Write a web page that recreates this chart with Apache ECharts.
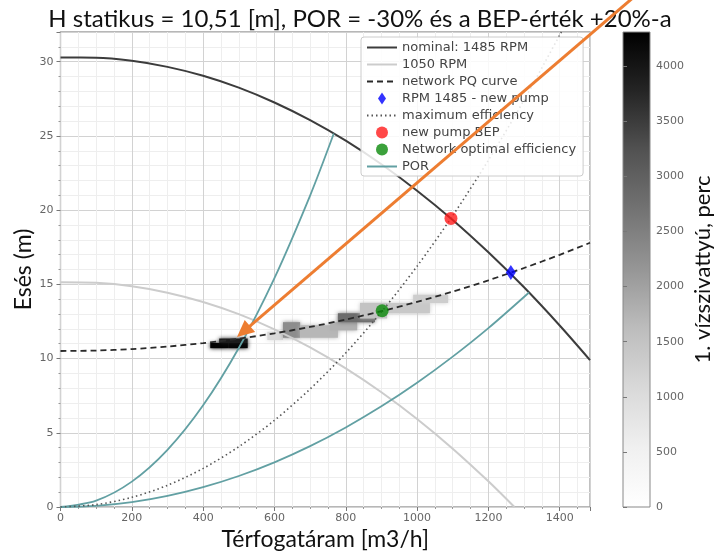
<!DOCTYPE html>
<html>
<head>
<meta charset="utf-8">
<script src="https://cdn.jsdelivr.net/npm/echarts@6/dist/echarts.min.js"></script>
<style>
  html, body { margin: 0; padding: 0; background: #ffffff; }
  #main { width: 717px; height: 552px; }
</style>
</head>
<body>
<div id="main"></div>
<script>
// Pump curves: flow Q [m3/h] vs head H [m]
const nominalQ = [0, 100, 200, 300, 400, 500, 600, 700, 800, 900, 1000, 1100, 1200, 1300, 1400, 1485];
const nominalH = [30.28, 30.27, 30.06, 29.65, 29.05, 28.25, 27.25, 26.06, 24.68, 23.09, 21.31, 19.34, 17.16, 14.80, 12.23, 9.90];

const rpm1050Q = [0, 100, 200, 300, 400, 500, 600, 700, 800, 900, 1000, 1100, 1200, 1273];
const rpm1050H = [15.14, 15.10, 14.87, 14.44, 13.81, 12.99, 11.97, 10.75, 9.34, 7.73, 5.93, 3.93, 1.73, 0];

// System (network) curve, static head 10.51 m
const networkQ = [0, 100, 200, 300, 400, 500, 600, 700, 800, 900, 1000, 1100, 1200, 1300, 1400, 1485];
const networkH = [10.51, 10.54, 10.64, 10.81, 11.04, 11.34, 11.70, 12.13, 12.63, 13.19, 13.82, 14.51, 15.27, 16.10, 16.99, 17.80];

// Maximum efficiency parabola
const maxEffQ = [0, 100, 200, 300, 400, 500, 600, 700, 800, 900, 1000, 1100, 1200, 1300, 1400, 1405];
const maxEffH = [0, 0.16, 0.65, 1.46, 2.60, 4.06, 5.84, 7.95, 10.38, 13.14, 16.22, 19.63, 23.36, 27.41, 31.79, 32.0];

// Preferred operating region bounds (-30% / +20% of BEP flow)
const porLowQ = [0, 100, 200, 300, 400, 500, 600, 700, 766.5];
const porLowH = [0, 0.43, 1.71, 3.85, 6.85, 10.71, 15.42, 20.98, 25.16];
const porHighQ = [0, 100, 200, 300, 400, 500, 600, 700, 800, 900, 1000, 1100, 1200, 1314];
const porHighH = [0, 0.08, 0.33, 0.75, 1.34, 2.09, 3.01, 4.10, 5.36, 6.78, 8.37, 10.13, 12.05, 14.45];

// Characteristic points [Q, H]
const newPumpPoint = [1263, 15.8];
const bepPoint = [1095, 19.44];
const networkOptimum = [902, 13.22];

// Running time of pump 1 per operating cell: [Q from, Q to, H from, H to, minutes]
const runCells = [
  [420, 470, 10.70, 11.05, 4300],
  [470, 525, 10.70, 11.05, 4250],
  [445, 525, 11.05, 11.35, 3900],
  [580, 624, 11.25, 11.80, 1100],
  [624, 672, 11.40, 12.45, 2300],
  [672, 778, 11.40, 12.25, 1700],
  [756, 832, 11.90, 12.45, 1800],
  [778, 882, 12.45, 13.05, 2800],
  [840, 916, 12.70, 13.75, 1500],
  [916, 1036, 13.05, 13.75, 1400],
  [989, 1087, 13.75, 14.30, 1300]
];

const colorbarMax = 4310;
const greys = ['#ffffff', '#f0f0f0', '#d9d9d9', '#bdbdbd', '#969696', '#737373', '#525252', '#252525', '#000000'];

const legendNames = ['nominal: 1485 RPM', '1050 RPM', 'network PQ curve', 'RPM 1485 - new pump',
  'maximum efficiency', 'new pump BEP', 'Network optimal efficiency', 'POR'];
const markerNames = ['RPM 1485 - new pump', 'new pump BEP', 'Network optimal efficiency'];
const diamondIcon = 'path://M0,-7.5L5,0L0,7.5L-5,0Z';

const pairs = (xs, ys) => xs.map((x, i) => [x, ys[i]]);
const plain = v => String(v);

const chart = echarts.init(document.getElementById('main'), null, { renderer: 'canvas' });

const tickFont = { color: '#666', fontSize: 11, fontFamily: 'DejaVu Sans', formatter: plain };
const nameFont = { color: '#111', fontSize: 23, fontFamily: 'Lato' };

const lineSeries = (name, data, color, width, type, z) => ({
  name, type: 'line', data, xAxisIndex: 0, yAxisIndex: 0,
  symbol: 'none', smooth: 0.3, silent: true, z,
  lineStyle: { color, width, type },
  itemStyle: { color },
  clip: true
});

const legendItem = n => {
  if (n === 'RPM 1485 - new pump') return { name: n, icon: diamondIcon };
  if (markerNames.includes(n)) return { name: n };
  return { name: n, itemStyle: { opacity: 0 } };
};

const option = {
  animation: false,
  backgroundColor: '#ffffff',
  title: {
    text: 'H statikus = 10,51 [m], POR = -30% és a BEP-érték +20%-a',
    left: 355, top: 2, textAlign: 'center',
    textStyle: { fontFamily: 'Lato', fontSize: 24, fontWeight: 'normal', color: '#111' }
  },
  grid: [
    { left: 60.5, top: 32, width: 529.5, height: 475, outerBoundsMode: 'none', containLabel: false,
      show: true, borderColor: '#a0a0a0', borderWidth: 1.3, backgroundColor: '#ffffff' },
    { left: 623, top: 32, width: 27, height: 475, outerBoundsMode: 'none', containLabel: false,
      show: true, borderColor: '#888', borderWidth: 1,
      backgroundColor: new echarts.graphic.LinearGradient(0, 1, 0, 0,
        greys.map((c, i) => ({ offset: i / (greys.length - 1), color: c }))) }
  ],
  xAxis: [
    {
      gridIndex: 0, type: 'value', min: 0, max: 1485, interval: 200,
      name: 'Térfogatáram [m3/h]', nameLocation: 'middle', nameGap: 21, nameMoveOverlap: false,
      nameTextStyle: nameFont,
      axisLine: { show: false },
      axisTick: { show: true, inside: false, length: 4, lineStyle: { color: '#777' } },
      minorTick: { show: true, splitNumber: 4, length: 2, lineStyle: { color: '#999' } },
      axisLabel: Object.assign({ margin: 6, showMaxLabel: false }, tickFont),
      splitLine: { show: true, lineStyle: { color: '#d2d2d2', width: 1 } },
      minorSplitLine: { show: true, lineStyle: { color: '#eeeeee', width: 1 } }
    },
    { gridIndex: 1, type: 'value', min: 0, max: 1, show: false }
  ],
  yAxis: [
    {
      gridIndex: 0, type: 'value', min: 0, max: 32, interval: 5,
      name: 'Esés (m)', nameLocation: 'middle', nameGap: 25, nameMoveOverlap: false,
      nameTextStyle: nameFont,
      axisLine: { show: false },
      axisTick: { show: true, inside: false, length: 4, lineStyle: { color: '#777' } },
      minorTick: { show: true, splitNumber: 5, length: 2, lineStyle: { color: '#999' } },
      axisLabel: Object.assign({ margin: 7, showMaxLabel: false }, tickFont),
      splitLine: { show: true, lineStyle: { color: '#d2d2d2', width: 1 } },
      minorSplitLine: { show: true, lineStyle: { color: '#eeeeee', width: 1 } }
    },
    {
      gridIndex: 1, type: 'value', min: 0, max: colorbarMax, interval: 500, position: 'right',
      name: '1. vízszivattyú, perc', nameLocation: 'middle', nameGap: 42, nameRotate: 90,
      nameMoveOverlap: false,
      nameTextStyle: Object.assign({}, nameFont, { fontSize: 22 }),
      axisLine: { show: false },
      axisTick: { show: true, inside: false, length: 4, lineStyle: { color: '#777' } },
      axisLabel: Object.assign({ margin: 6, showMaxLabel: false }, tickFont),
      splitLine: { show: false }
    }
  ],
  visualMap: {
    show: false, type: 'continuous', seriesIndex: 0, dimension: 4,
    min: 0, max: colorbarMax, inRange: { color: greys }
  },
  legend: {
    left: 361, top: 37, orient: 'vertical',
    itemWidth: 30, itemHeight: 12, itemGap: 4,
    symbolKeepAspect: true,
    padding: [4, 7, 3, 5],
    backgroundColor: 'rgba(255,255,255,0.85)', borderColor: '#cccccc', borderWidth: 1, borderRadius: 3,
    textStyle: { color: '#444', fontSize: 13, fontFamily: 'DejaVu Sans' },
    data: legendNames.map(legendItem),
    z: 20
  },
  series: [
    {
      name: 'running time', type: 'custom', xAxisIndex: 0, yAxisIndex: 0, silent: true, z: 1,
      data: runCells,
      encode: { x: [0, 1], y: [2, 3] },
      renderItem: function (params, api) {
        const p0 = api.coord([api.value(0), api.value(3)]);
        const p1 = api.coord([api.value(1), api.value(2)]);
        const color = api.visual('color');
        return {
          type: 'rect',
          shape: { x: p0[0], y: p0[1], width: p1[0] - p0[0], height: p1[1] - p0[1] },
          style: { fill: color, shadowBlur: 4, shadowColor: color }
        };
      }
    },
    lineSeries('nominal: 1485 RPM', pairs(nominalQ, nominalH), '#3c3c3c', 2, 'solid', 5),
    lineSeries('1050 RPM', pairs(rpm1050Q, rpm1050H), '#cccccc', 2, 'solid', 4),
    lineSeries('network PQ curve', pairs(networkQ, networkH), '#2a2a2a', 1.8, [6, 4], 6),
    {
      name: 'RPM 1485 - new pump', type: 'scatter', data: [newPumpPoint], silent: true, z: 9,
      symbol: 'diamond', symbolSize: [10, 15], itemStyle: { color: '#0000ff' }
    },
    lineSeries('maximum efficiency', pairs(maxEffQ, maxEffH), '#555555', 1.6, [1.5, 3], 6),
    {
      name: 'new pump BEP', type: 'scatter', data: [bepPoint], silent: true, z: 9,
      symbol: 'circle', symbolSize: 13, itemStyle: { color: '#ff1a1a' }
    },
    {
      name: 'Network optimal efficiency', type: 'scatter', data: [networkOptimum], silent: true, z: 9,
      symbol: 'circle', symbolSize: 13, itemStyle: { color: '#0a8a0a' }
    },
    lineSeries('POR', pairs(porLowQ, porLowH), '#62a0a3', 1.8, 'solid', 5),
    lineSeries('POR', pairs(porHighQ, porHighH), '#62a0a3', 1.8, 'solid', 5)
  ]
};

chart.setOption(option);

// Orange callout arrow pointing at the most frequent operating cell
const arrowTip = chart.convertToPixel({ gridIndex: 0 }, [495, 11.45]);
const arrowTail = chart.convertToPixel({ gridIndex: 0 }, [1615, 34.5]);
const dx = arrowTip[0] - arrowTail[0], dy = arrowTip[1] - arrowTail[1];
const len = Math.hypot(dx, dy), ux = dx / len, uy = dy / len;
const headLen = 17, headHalf = 8;
const base = [arrowTip[0] - ux * headLen, arrowTip[1] - uy * headLen];
chart.setOption({
  graphic: [
    {
      type: 'line', z: 100, silent: true,
      shape: { x1: arrowTail[0], y1: arrowTail[1], x2: base[0] + ux * 2, y2: base[1] + uy * 2 },
      style: { stroke: '#ED7D31', lineWidth: 3 }
    },
    {
      type: 'polygon', z: 100, silent: true,
      shape: { points: [arrowTip,
        [base[0] - uy * headHalf, base[1] + ux * headHalf],
        [base[0] + uy * headHalf, base[1] - ux * headHalf]] },
      style: { fill: '#ED7D31' }
    }
  ]
});
</script>
</body>
</html>
